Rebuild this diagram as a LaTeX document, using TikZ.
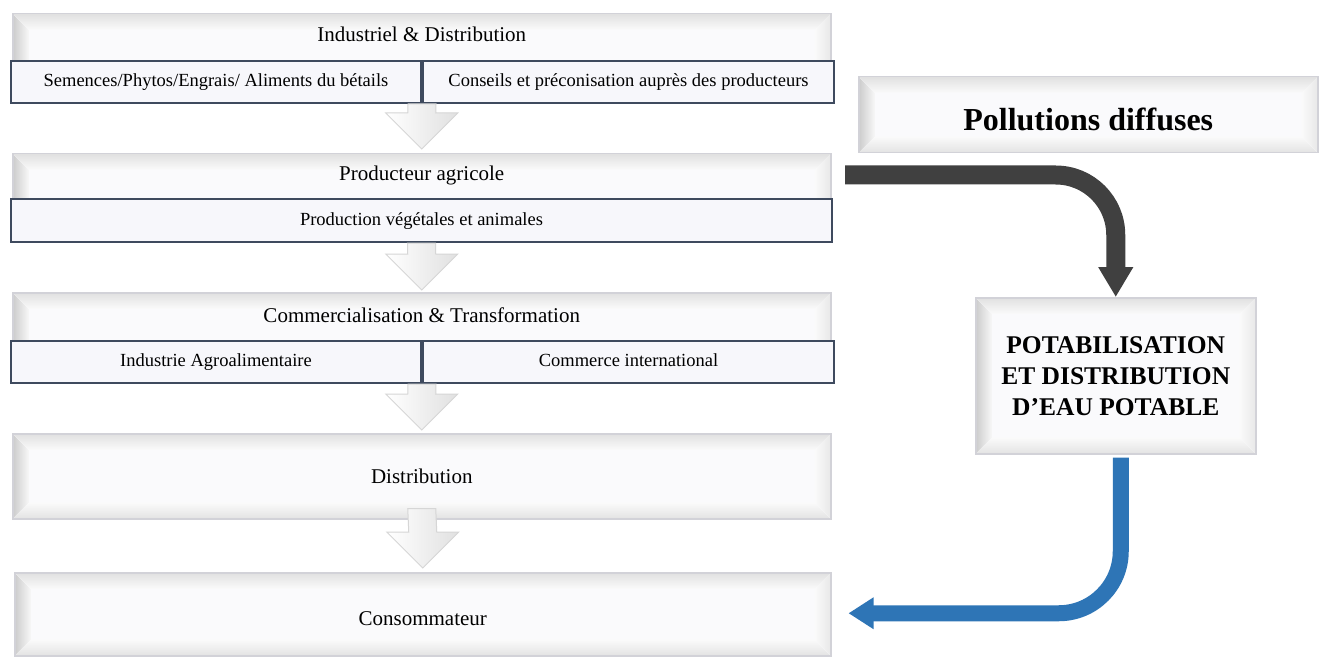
\documentclass[tikz,border=0pt]{standalone}
\usepackage{fontspec}
\setmainfont{Liberation Serif}
\usetikzlibrary{arrows.meta, positioning, calc}

\definecolor{bevelline}{RGB}{210,210,216}
\definecolor{bevelfill}{RGB}{250,250,252}
\definecolor{subline}{RGB}{62,74,94}
\definecolor{subfill}{RGB}{247,247,251}
\definecolor{pollgray}{RGB}{64,64,64}
\definecolor{waterblue}{RGB}{46,117,182}

\newcommand{\bv}{16}
% light block arrow between two stages
\newcommand{\flowarrow}[2]{%
  \path[flowarrow] ($(#1)+(-14,0)$) -- ($(#2)+(-14,36)$) -- ($(#2)+(-36,36)$) -- (#2)
    -- ($(#2)+(36,36)$) -- ($(#2)+(14,36)$) -- ($(#1)+(14,0)$) -- cycle;}

\tikzset{
  bevel/.style={draw=bevelline, line width=1.5pt, fill=bevelfill, inner sep=0pt, align=center,
    path picture={
      \coordinate (bvnw) at (path picture bounding box.north west);
      \coordinate (bvne) at (path picture bounding box.north east);
      \coordinate (bvsw) at (path picture bounding box.south west);
      \coordinate (bvse) at (path picture bounding box.south east);
      \fill[left color=black!20, right color=black!3] (bvnw) -- (bvsw) -- ($(bvsw)+(\bv,\bv)$) -- ($(bvnw)+(\bv,-\bv)$) -- cycle;
      \fill[top color=black!12, bottom color=black!2] (bvnw) -- (bvne) -- ($(bvne)+(-\bv,-\bv)$) -- ($(bvnw)+(\bv,-\bv)$) -- cycle;
      \fill[bottom color=black!11, top color=black!2] (bvsw) -- (bvse) -- ($(bvse)+(-\bv,\bv)$) -- ($(bvsw)+(\bv,\bv)$) -- cycle;
      \fill[right color=black!9, left color=black!2] (bvne) -- (bvse) -- ($(bvse)+(-\bv,\bv)$) -- ($(bvne)+(-\bv,-\bv)$) -- cycle;
    }},
  subbox/.style={draw=subline, line width=2pt, fill=subfill, minimum height=42pt, inner sep=0pt,
    text height=13pt, text depth=4pt, font=\fontsize{18.5}{22}\selectfont},
  titletext/.style={font=\fontsize{21}{25}\selectfont, inner sep=0pt},
  flowarrow/.style={draw=black!16, line width=1pt, left color=white, right color=black!12},
  pollarrow/.style={draw=pollgray, line width=19pt, rounded corners=60pt, -{Triangle[width=33pt,length=30pt]}},
  waterarrow/.style={draw=waterblue, line width=16pt, rounded corners=62pt, -{Triangle[width=30pt,length=25pt]}},
}

\begin{document}
\begin{tikzpicture}[x=1pt, y=1pt]
  \fill[white] (0,0) rectangle (1323,-658);
  \useasboundingbox (0,0) rectangle (1323,-658);

  % Industriel & Distribution
  \node[bevel, minimum width=818pt, minimum height=87pt, anchor=north west] (indus) at (12,-13) {};
  \node[titletext] (industitle) at ($(indus.north)+(0,-21)$) {Industriel \& Distribution};
  \node[subbox, minimum width=410pt, anchor=north west] (seeds) at (10,-60) {Semences/Phytos/Engrais/ Aliments du bétails};
  \node[subbox, minimum width=411pt, anchor=west] (advice) at (seeds.east) {Conseils et préconisation auprès des producteurs};

  % Producteur agricole
  \node[bevel, minimum width=818pt, minimum height=88pt, anchor=north west] (agri) at (12,-153) {};
  \node[titletext] (agrititle) at ($(agri.north)+(0,-22)$) {Producteur agricole};
  \node[subbox, minimum width=821pt, minimum height=43pt, anchor=north west] (prod) at (10,-198) {Production végétales et animales};

  % Commercialisation & Transformation
  \node[bevel, minimum width=818pt, minimum height=90pt, anchor=north west] (trade) at (12,-292) {};
  \node[titletext] (tradetitle) at ($(trade.north)+(0,-23)$) {Commercialisation \& Transformation};
  \node[subbox, minimum width=410pt, anchor=north west] (agrofood) at (10,-340) {Industrie Agroalimentaire};
  \node[subbox, minimum width=411pt, anchor=west] (export) at (agrofood.east) {Commerce international};

  % Distribution, Consommateur
  \node[bevel, titletext, minimum width=818pt, minimum height=85pt, anchor=north west] (distrib) at (12,-433) {Distribution};
  \node[bevel, titletext, minimum width=816pt, minimum height=83pt, anchor=north west, text height=22pt, text depth=0pt] (consumer) at (14,-572) {Consommateur};

  % stage arrows
  \flowarrow{$(seeds.south east)+(0,0)$}{$(agri.north)+(0,4)$}
  \flowarrow{$(prod.south)+(0,0)$}{$(trade.north)+(0,2)$}
  \flowarrow{$(agrofood.south east)+(0,0)$}{$(distrib.north)+(0,3)$}
  \flowarrow{$(distrib.south)+(0,11)$}{$(consumer.north)+(0,4)$}

  % right column
  \node[bevel, minimum width=459pt, minimum height=76pt, anchor=north west, text height=31pt, text depth=0pt, font=\fontsize{32}{36}\selectfont\bfseries] (pollution) at (858,-76) {Pollutions diffuses};
  \node[bevel, minimum width=280pt, minimum height=156pt, anchor=north west, font=\fontsize{25.5}{31}\selectfont\bfseries] (potab) at (975,-297) {POTABILISATION\\ET DISTRIBUTION\\D’EAU POTABLE};

  \coordinate (pollstart) at (845,-175);
  \draw[pollarrow] (pollstart) -| (potab.north);
  \coordinate (tapend) at ($(consumer.east)+(17,1)$);
  \draw[waterarrow] ($(potab.south)+(5,-3)$) |- (tapend);
\end{tikzpicture}
\end{document}
